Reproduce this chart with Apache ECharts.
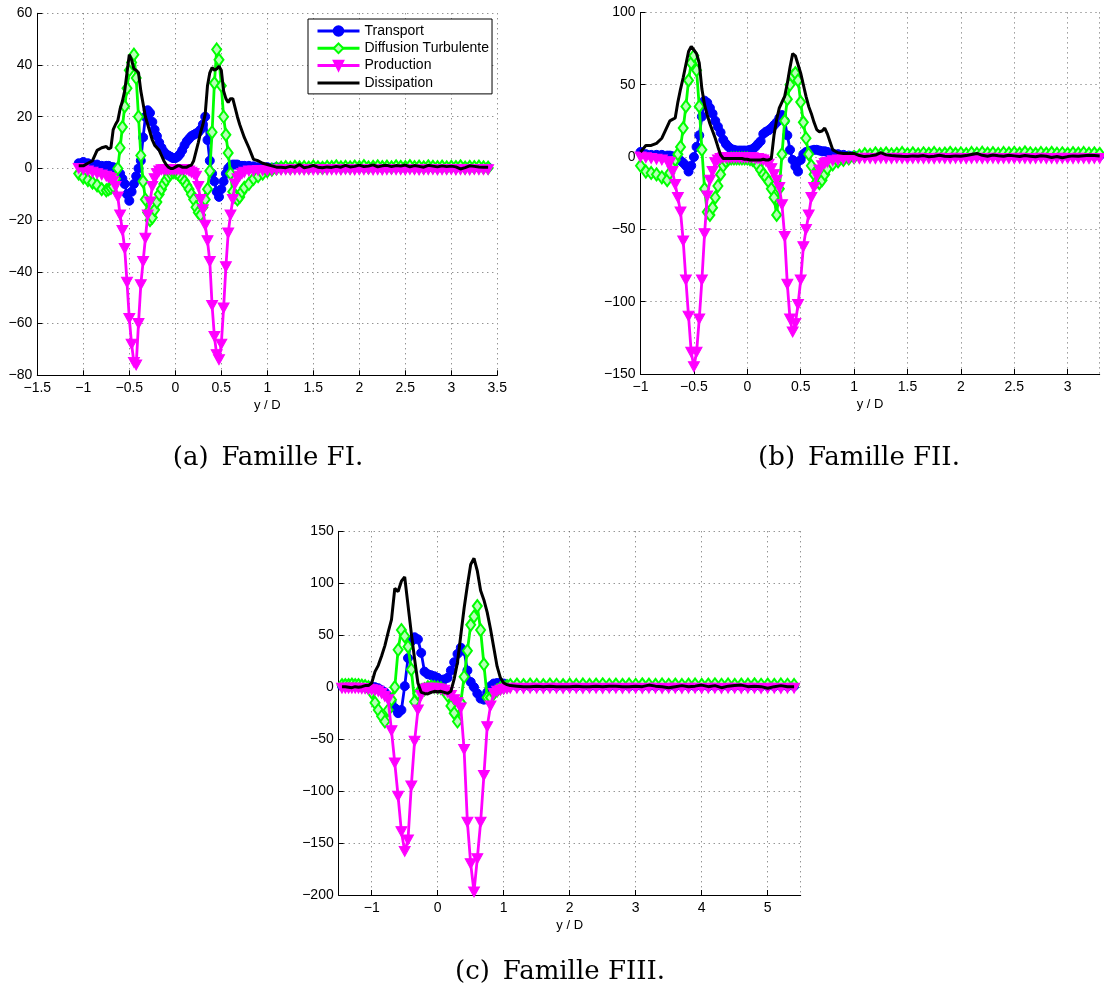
<!DOCTYPE html>
<html>
<head>
<meta charset="utf-8">
<script src="https://cdn.jsdelivr.net/npm/echarts@6/dist/echarts.min.js"></script>
<style>html,body{margin:0;padding:0;background:#fff}#c{width:1104px;height:992px}</style>
</head>
<body>
<div id="c"></div>
<script>
// ---------------- (a) Famille FI ----------------
const xA = [
-1.05,-1,-0.95,-0.9,-0.85,-0.8,-0.75,-0.725,-0.7,-0.675,
-0.65,-0.625,-0.6,-0.575,-0.55,-0.525,-0.5,-0.475,-0.45,-0.425,
-0.4,-0.375,-0.35,-0.325,-0.3,-0.275,-0.25,-0.225,-0.2,-0.175,
-0.15,-0.125,-0.1,-0.075,-0.05,-0.025,0,0.025,0.05,0.075,
0.1,0.125,0.15,0.175,0.2,0.225,0.25,0.275,0.3,0.325,
0.35,0.375,0.4,0.425,0.45,0.475,0.5,0.525,0.55,0.575,
0.6,0.625,0.65,0.675,0.7,0.725,0.75,0.8,0.85,0.9,
0.95,1,1.05,1.1,1.15,1.2,1.25,1.3,1.35,1.4,
1.45,1.5,1.55,1.6,1.65,1.7,1.75,1.8,1.85,1.9,
1.95,2,2.05,2.1,2.15,2.2,2.25,2.3,2.35,2.4,
2.45,2.5,2.55,2.6,2.65,2.7,2.75,2.8,2.85,2.9,
2.95,3,3.05,3.1,3.15,3.2,3.25,3.3,3.35,3.4];
const transportA = [
2,2.5,2,1.5,1.5,1,1,1,0.5,0.5,
0,-1,-2,-4,-6,-10,-12.5,-9,-6,-3,
0,3,12,20,22.5,21.5,18,15,12.5,10,
8,6.5,5.5,5,4.5,4,4,4.5,5.5,7,
9,10.5,11.5,12.5,13,13.5,14,15,17,20,
11,3,-2,-5,-9,-11,-8,-5,-2,0,
1,1.5,1.5,1.5,1,1,1,1,0.8,0.5,
0.5,0.5,0.3,0.5,0.4,0.5,0.3,0.5,0.4,0.5,
0.3,0.5,0.4,0.5,0.3,0.5,0.4,0.5,0.3,0.5,
0.4,0.5,0.3,0.5,0.4,0.5,0.3,0.5,0.4,0.5,
0.3,0.5,0.4,0.5,0.3,0.5,0.4,0.5,0.3,0.5,
0.4,0.5,0.3,0.5,0.4,0.5,0.3,0.5,0.4,0.5];
const diffusionA = [
-2,-3.5,-4.5,-5.5,-6.5,-8,-8.5,-8,-7.5,-7,
-4,0,8,16,24,31,38,41,44,35,
20,5,-5,-12,-17,-20,-19,-16,-13,-10,
-8,-6,-4.5,-3,-2,-1.5,-1.5,-2,-3,-4,
-5,-6.5,-8,-10,-12,-15,-17,-18,-15,-12,
-8,-1,14,33,46,42,32,20,13,6,
-2,-9,-11,-12,-11,-9,-7.5,-6,-4,-3,
-2,-1,-0.5,0,0.3,0.5,0.2,0.6,0.4,0.5,
0.3,0.7,0.4,0.2,0.6,0.5,0.8,0.4,0.6,0.4,
0.7,0.5,0.9,0.4,0.6,0.8,0.5,0.7,0.4,0.8,
0.6,0.5,0.9,0.5,0.7,0.4,0.8,0.6,0.5,0.7,
0.4,0.6,0.5,0.8,0.3,0.6,0.5,0.7,0.4,0.3];
const productionA = [
0,-0.5,-1,-1.5,-2,-2.5,-3,-3.5,-4,-5,
-7,-11,-18,-24,-31,-44,-58,-68,-75,-76,
-60,-45,-36,-27,-18,-13,-7,-4,-2,-1,
-0.5,-0.5,-0.5,-0.5,-0.5,-0.5,-0.5,-0.5,-0.5,-0.5,
-0.5,-0.5,-1,-1.5,-2,-3,-7,-12,-16,-22,
-28,-36,-53,-65,-72,-74,-68,-54,-38,-25,
-18,-12,-6,-4,-3,-2,-1.5,-1,-1,-0.8,
-0.8,-0.8,-0.7,-0.6,-0.6,-0.5,-0.6,-0.5,-0.5,-0.6,
-0.5,-0.6,-0.5,-0.4,-0.6,-0.5,-0.5,-0.6,-0.4,-0.5,
-0.6,-0.5,-0.5,-0.4,-0.6,-0.5,-0.6,-0.5,-0.4,-0.5,
-0.5,-0.6,-0.4,-0.5,-0.6,-0.5,-0.5,-0.4,-0.6,-0.5,
-0.5,-0.4,-0.6,-0.5,-0.5,-0.6,-0.4,-0.5,-0.5,-0.5];
const dissipationA = [
1,1,2,3,7,8,8.5,7.5,8,15,
17,18.5,23,26,30,37,44,42,38.5,38,
37,30,25,20,17,14,11,9,8,7,
5,3,1.5,0.5,0,0,0.5,1,1,0.5,
0.5,0.5,1,1.3,3,6.5,10,14,17,21,
32,37,39,38,38.5,39.5,38,30,27,25.5,
27,27,23.5,20,17,14.5,12,8,3.5,3,
2,1.5,1,0.5,0.5,0.3,0.8,0.5,1.5,0.3,
0.6,1.2,0.5,0.3,0.6,0.4,0.8,0.5,1.2,0.6,
0.8,1.3,0.7,0.9,1.4,0.6,1.0,1.2,0.7,1.1,
0.9,1.3,0.6,1.1,0.8,0.5,1.2,0.9,0.6,1.0,
0.7,0.9,0.6,-0.2,0.3,1.0,0.8,0.6,0.5,0.5];

// ---------------- (b) Famille FII ----------------
const xB = [
-1,-0.95,-0.9,-0.85,-0.8,-0.75,-0.725,-0.7,-0.675,-0.65,
-0.625,-0.6,-0.575,-0.55,-0.525,-0.5,-0.475,-0.45,-0.425,-0.4,
-0.375,-0.35,-0.325,-0.3,-0.275,-0.25,-0.225,-0.2,-0.175,-0.15,
-0.125,-0.1,-0.075,-0.05,-0.025,0,0.025,0.05,0.075,0.1,
0.125,0.15,0.175,0.2,0.225,0.25,0.275,0.3,0.325,0.35,
0.375,0.4,0.425,0.45,0.475,0.5,0.525,0.55,0.575,0.6,
0.625,0.65,0.675,0.7,0.725,0.75,0.8,0.85,0.9,0.95,
1,1.05,1.1,1.15,1.2,1.25,1.3,1.35,1.4,1.45,
1.5,1.55,1.6,1.65,1.7,1.75,1.8,1.85,1.9,1.95,
2,2.05,2.1,2.15,2.2,2.25,2.3,2.35,2.4,2.45,
2.5,2.55,2.6,2.65,2.7,2.75,2.8,2.85,2.9,2.95,
3,3.05,3.1,3.15,3.2,3.25,3.3];
const transportB = [
3.5,2,1.5,1.5,1.5,1,1,0.5,0,-1,
-2.5,-4,-6,-10,-6,0,7,15,28,39,
37.5,34,30,25,21,17,12,9,7,5.5,
5,4.5,4.5,4.5,4.5,4.5,5,5.5,7,9,
11,16,17.5,18.5,20,22,24,27,29,25,
15,5,-2,-6.5,-10,-2,2,3.5,4,4.5,
5,5,4.5,4,4,3.5,2.5,2,1.5,1,
1,0.8,1,0.8,1,0.8,1,0.8,1,0.8,
1,0.8,1,0.8,1,0.8,1,0.8,1,0.8,
1,0.8,1,0.8,1,0.8,1,0.8,1,0.8,
1,0.8,1,0.8,1,0.8,1,0.8,1,0.8,
1,0.8,1,0.8,1,0.8,1];
const diffusionB = [
-6,-10,-11,-12,-14,-16,-11,-6,-2,2,
7,20,35,53,65,70,60,35,5,-22,
-38,-40,-35,-28,-20,-12,-6,-3,-1.5,-1,
-1,-1,-1,-1,-1,-1,-1.5,-2,-3,-6,
-9,-12,-14,-17,-22,-28,-40,-22,2,25,
40,50,56,58,53,38,24,13,2,-6,
-12,-17,-18,-16,-12,-8,-5,-3,-2,-1,
0,1,2,1.5,2.5,2,2.5,1.8,2.2,2.8,
2,2.5,1.8,2.6,2.2,2.8,2,2.4,2.9,2.2,
2.6,2,2.8,2.3,3,2.4,2.7,2.1,2.8,2.5,
2.9,2.4,3.2,2.6,2.2,2.8,2.4,2.9,2.3,2.6,
2.2,2.7,2.4,2.8,2.3,2.5,2.2];
const productionB = [
0,-0.5,-1,-1.5,-2,-3,-4,-10,-19,-28,
-38,-58,-85,-110,-135,-145,-135,-112,-85,-53,
-27,-16,-10,-4,-2,-1,-0.5,-0.5,-0.5,-0.5,
-0.5,-0.5,-0.5,-0.5,-0.5,-0.5,-0.5,-0.5,-1,-1,
-1.5,-2,-3,-5,-8,-12,-16,-21,-33,-55,
-88,-112,-121,-115,-102,-85,-62,-50,-40,-28,
-21,-13,-9,-6,-4.5,-3.5,-2.5,-2,-1.5,-1,
-1,-1.2,-0.8,-1,-1.2,-0.9,-1,-1.1,-0.8,-1,
-1.2,-1,-0.9,-1.1,-1,-1.2,-0.8,-1,-1.1,-0.9,
-1,-1.2,-1,-0.8,-1.1,-1,-0.9,-1.2,-1,-1,
-1.1,-0.9,-1,-1.2,-1,-0.8,-1.1,-1,-1.2,-0.9,
-1,-1.1,-0.9,-1,-1.2,-1,-1];
const dissipationB = [
3.5,8,8,9.5,13,21,25,26,27,38,
47,55,64,73,76.5,74,71.5,65,47,36,
29,23,18,13,7,1.5,-1,-1,-1,-1,
-1,-1,-1,-1,-1.5,-1.5,-2,-2,-2,-2,
-2,-1.5,-2,-2,-1,15,26,34,38,42,
51,62,71.5,70,64,58,50,42,35,30,
24,19,17.5,18,20,16,5,3,2.5,2.5,
2.5,1,0.3,0.8,1.4,3,1.5,1,0.8,0.5,
0.3,0.8,0.5,1,0.2,0.6,1.2,0.5,0.3,0.8,
0.5,1.0,1.8,2.5,1.2,0.6,1.4,0.9,0.5,1.2,
0.8,0.4,1.0,0.6,0.2,0.9,0.5,-0.3,0.4,-0.5,
0.3,0.8,0.6,0.9,1.2,1.0,0.8];

// ---------------- (c) Famille FIII ----------------
const xC = [
-1.45,-1.4,-1.35,-1.3,-1.25,-1.2,-1.15,-1.1,-1.05,-1,
-0.95,-0.9,-0.85,-0.8,-0.75,-0.7,-0.65,-0.6,-0.55,-0.5,
-0.45,-0.4,-0.35,-0.3,-0.25,-0.2,-0.15,-0.1,-0.05,0,
0.05,0.1,0.15,0.2,0.25,0.3,0.35,0.4,0.45,0.5,
0.55,0.6,0.65,0.7,0.75,0.8,0.85,0.9,0.95,1,
1.05,1.1,1.2,1.3,1.4,1.5,1.6,1.7,1.8,1.9,
2,2.1,2.2,2.3,2.4,2.5,2.6,2.7,2.8,2.9,
3,3.1,3.2,3.3,3.4,3.5,3.6,3.7,3.8,3.9,
4,4.1,4.2,4.3,4.4,4.5,4.6,4.7,4.8,4.9,
5,5.1,5.2,5.3,5.4];
const transportC = [
1,1,1,1,1,1,1,1,1,0.5,
0,-1,-3,-5,-9,-14,-20,-25,-22,1,
28,44,48,46,33,15,12.5,11.5,10.5,9,
7,7.5,9,16,24,32,38,35,16,5,
0,-6,-11,-12,-5,1,3.5,4,4,3.5,
2.5,1.5,1,1,0.8,1,0.8,1,0.8,1,
1,0.8,1,0.8,1,1,0.8,1,1,0.8,
1,0.8,1,0.8,1,1,0.8,1,1,0.8,
1,0.8,1,0.8,1,1,0.8,1,1,0.8,
1,0.8,1,0.8,1];
const diffusionC = [
2,2,2,2.5,2,2,1.5,1,0,-5,
-15,-22,-28,-33,-22,-12,0,36,55,49,
39,17,-14,-6,-3,-2,0,0.5,0,-0.5,
-1,-3,-8,-18,-25,-33,-15,10,35,60,
68,78,55,22,-10,-10,-6,-3,-1,0,
1,2,2.5,2,2.5,2.2,2,2.5,2.3,2,
2.4,2.1,2.6,2.2,2.5,2.8,2.3,2.5,2.2,2.6,
2.3,2.7,2.4,2.2,2.6,2.3,2.5,2.1,2.4,2.6,
2.2,2.5,2.8,2.3,2.6,2.2,2.5,2.4,2.7,2.3,
2.5,2.2,2.6,2.3,2.1];
const productionC = [
-1,-1,-1,-1,-1,-1,-1.5,-1.5,-2,-2.5,
-3,-4,-6,-9,-12,-42,-73,-105,-139,-158,
-147,-95,-52,-22,-8,-2,-1,-1,-1,-1.5,
-2,-3,-5,-8,-12,-15,-20,-60,-130,-170,
-197,-165,-130,-85,-38,-18,-6,-4,-3,-2,
-1.5,-1,-1,-1.2,-1,-1,-1.2,-1,-1,-1.2,
-1,-1,-1.2,-1,-1,-1.2,-1,-1,-1.2,-1,
-1,-1.2,-1,-1,-1.2,-1,-1,-1.2,-1,-1,
-1.2,-1,-1,-1.2,-1,-1,-1.2,-1,-1,-1.2,
-1,-1,-1.2,-1,-1];
const dissipationC = [
0.5,0.5,0,-0.5,0.5,0,0.5,1.5,1.5,4,
15,21,30,40,53,65,95,92,102,106,
79,52,27,4,-5,-6,-6.5,-5,-4,-4.5,
-4,-5,-6,-4,8,24,50,76,98,118,
124,112,93,84,72,56,38,20,9,4,
2.5,1.5,1,0.5,0.5,1,0.5,1,0.5,0.3,
0.5,1,0.5,0.3,0.8,0.5,1,0.8,0.3,0.5,
1,0.5,2,1,0.5,-0.5,0.5,1.5,0.5,1,
2,0.5,1.5,-0.5,1,1.5,2,0.5,1,0.5,
-1,0.5,1.5,0.5,0.5];

const seriesNames = ['Transport', 'Diffusion Turbulente', 'Production', 'Dissipation'];
const captions = ['(a)\u2002Famille FI.', '(b)\u2002Famille FII.', '(c)\u2002Famille FIII.'];
const xName = 'y / D';

function pairs(xs, ys) {
  const n = Math.min(xs.length, ys.length);
  const out = [];
  for (let i = 0; i < n; i++) out.push([xs[i], ys[i]]);
  return out;
}

const sans = 'Liberation Sans, Arial, Helvetica, sans-serif';
const minus = v => String(v).replace('-', '\u2212');

function xAxisCfg(gi, min, max, interval, labelExtra, extra) {
  const a = {
    type: 'value', gridIndex: gi, min: min, max: max,
    name: xName, nameLocation: 'middle', nameGap: 24,
    nameTextStyle: { color: '#000', fontSize: 13, fontFamily: sans },
    axisLine: { show: true, onZero: false, lineStyle: { color: '#000', width: 1 } },
    axisTick: { show: true, inside: true, length: 5, lineStyle: { color: '#000' } },
    axisLabel: Object.assign({ color: '#000', fontSize: 14, fontFamily: sans, margin: 6, formatter: minus }, labelExtra || {}),
    splitLine: { show: true, lineStyle: { color: '#666', type: [1, 4], width: 1 } }
  };
  if (interval != null) a.interval = interval;
  return Object.assign(a, extra || {});
}
function yAxisCfg(gi, min, max, interval) {
  return {
    type: 'value', gridIndex: gi, min: min, max: max, interval: interval,
    axisLine: { show: true, onZero: false, lineStyle: { color: '#000', width: 1 } },
    axisTick: { show: true, inside: true, length: 5, lineStyle: { color: '#000' } },
    axisLabel: { color: '#000', fontSize: 14, fontFamily: sans, margin: 5, formatter: minus },
    splitLine: { show: true, lineStyle: { color: '#666', type: [1, 4], width: 1 } }
  };
}

const styles = [
  { color: '#0000ff', symbol: 'circle', symbolSize: 9, fill: '#0000ff', bw: 1, rot: 0, z: 2, lw: 2.8 },
  { color: '#00ff00', symbol: 'diamond', symbolSize: [9, 12], fill: '#b8ffb8', bw: 2, rot: 0, z: 3, lw: 2.8 },
  { color: '#ff00ff', symbol: 'triangle', symbolSize: [11, 10], fill: '#ff00ff', bw: 1, rot: 180, z: 4, lw: 2.8 },
  { color: '#000000', symbol: 'none', symbolSize: 0, fill: '#000000', bw: 0, rot: 0, z: 5, lw: 3 }
];

const groups = [
  [xA, [transportA, diffusionA, productionA, dissipationA]],
  [xB, [transportB, diffusionB, productionB, dissipationB]],
  [xC, [transportC, diffusionC, productionC, dissipationC]]
];

const series = [];
groups.forEach((g, gi) => {
  g[1].forEach((ys, si) => {
    const s = styles[si];
    series.push({
      name: seriesNames[si], type: 'line', xAxisIndex: gi, yAxisIndex: gi,
      data: pairs(g[0], ys),
      symbol: s.symbol, symbolSize: s.symbolSize, symbolRotate: s.rot,
      showSymbol: s.symbol !== 'none', showAllSymbol: true,
      lineStyle: { color: s.color, width: s.lw },
      itemStyle: { color: s.fill, borderColor: s.color, borderWidth: s.bw },
      emphasis: { disabled: true },
      z: s.z, clip: true
    });
  });
});

const chart = echarts.init(document.getElementById('c'), null, { renderer: 'canvas' });
chart.setOption({
  animation: false,
  backgroundColor: '#fff',
  grid: [
    { left: 37.3, top: 13.3, width: 460, height: 362 },
    { left: 640.5, top: 12.4, width: 459.2, height: 361.6 },
    { left: 338.7, top: 531.3, width: 462, height: 363.7 }
  ],
  xAxis: [
    xAxisCfg(0, -1.5, 3.5, 0.5),
    xAxisCfg(1, -1, 3.3, 0.5, { showMaxLabel: false }),
    xAxisCfg(2, -1.5, 5.5, null, { showMinLabel: false, showMaxLabel: false }, { splitNumber: 7 })
  ],
  yAxis: [
    yAxisCfg(0, -80, 60, 20),
    yAxisCfg(1, -150, 100, 50),
    yAxisCfg(2, -200, 150, 50)
  ],
  legend: {
    left: 308, top: 19, orient: 'vertical',
    itemWidth: 42, itemHeight: 12, itemGap: 3.3,
    padding: [5, 3, 4, 8],
    backgroundColor: '#fff', borderColor: '#000', borderWidth: 1, borderRadius: 0,
    textStyle: { color: '#000', fontSize: 14, fontFamily: sans },
    lineStyle: { width: 3 },
    data: [
      { name: seriesNames[0] },
      { name: seriesNames[1] },
      { name: seriesNames[2] },
      { name: seriesNames[3], itemStyle: { color: 'rgba(0,0,0,0)', borderWidth: 0, opacity: 0 } }
    ],
    selectedMode: false
  },
  graphic: [
    { type: 'text', x: 268, y: 458, style: { text: captions[0], fill: '#000', fontSize: 26, fontFamily: 'DejaVu Serif', align: 'center', verticalAlign: 'middle', textAlign: 'center', textVerticalAlign: 'middle' } },
    { type: 'text', x: 859, y: 458, style: { text: captions[1], fill: '#000', fontSize: 26, fontFamily: 'DejaVu Serif', align: 'center', verticalAlign: 'middle', textAlign: 'center', textVerticalAlign: 'middle' } },
    { type: 'text', x: 560, y: 972, style: { text: captions[2], fill: '#000', fontSize: 26, fontFamily: 'DejaVu Serif', align: 'center', verticalAlign: 'middle', textAlign: 'center', textVerticalAlign: 'middle' } }
  ],
  series: series
});
</script>
</body>
</html>
